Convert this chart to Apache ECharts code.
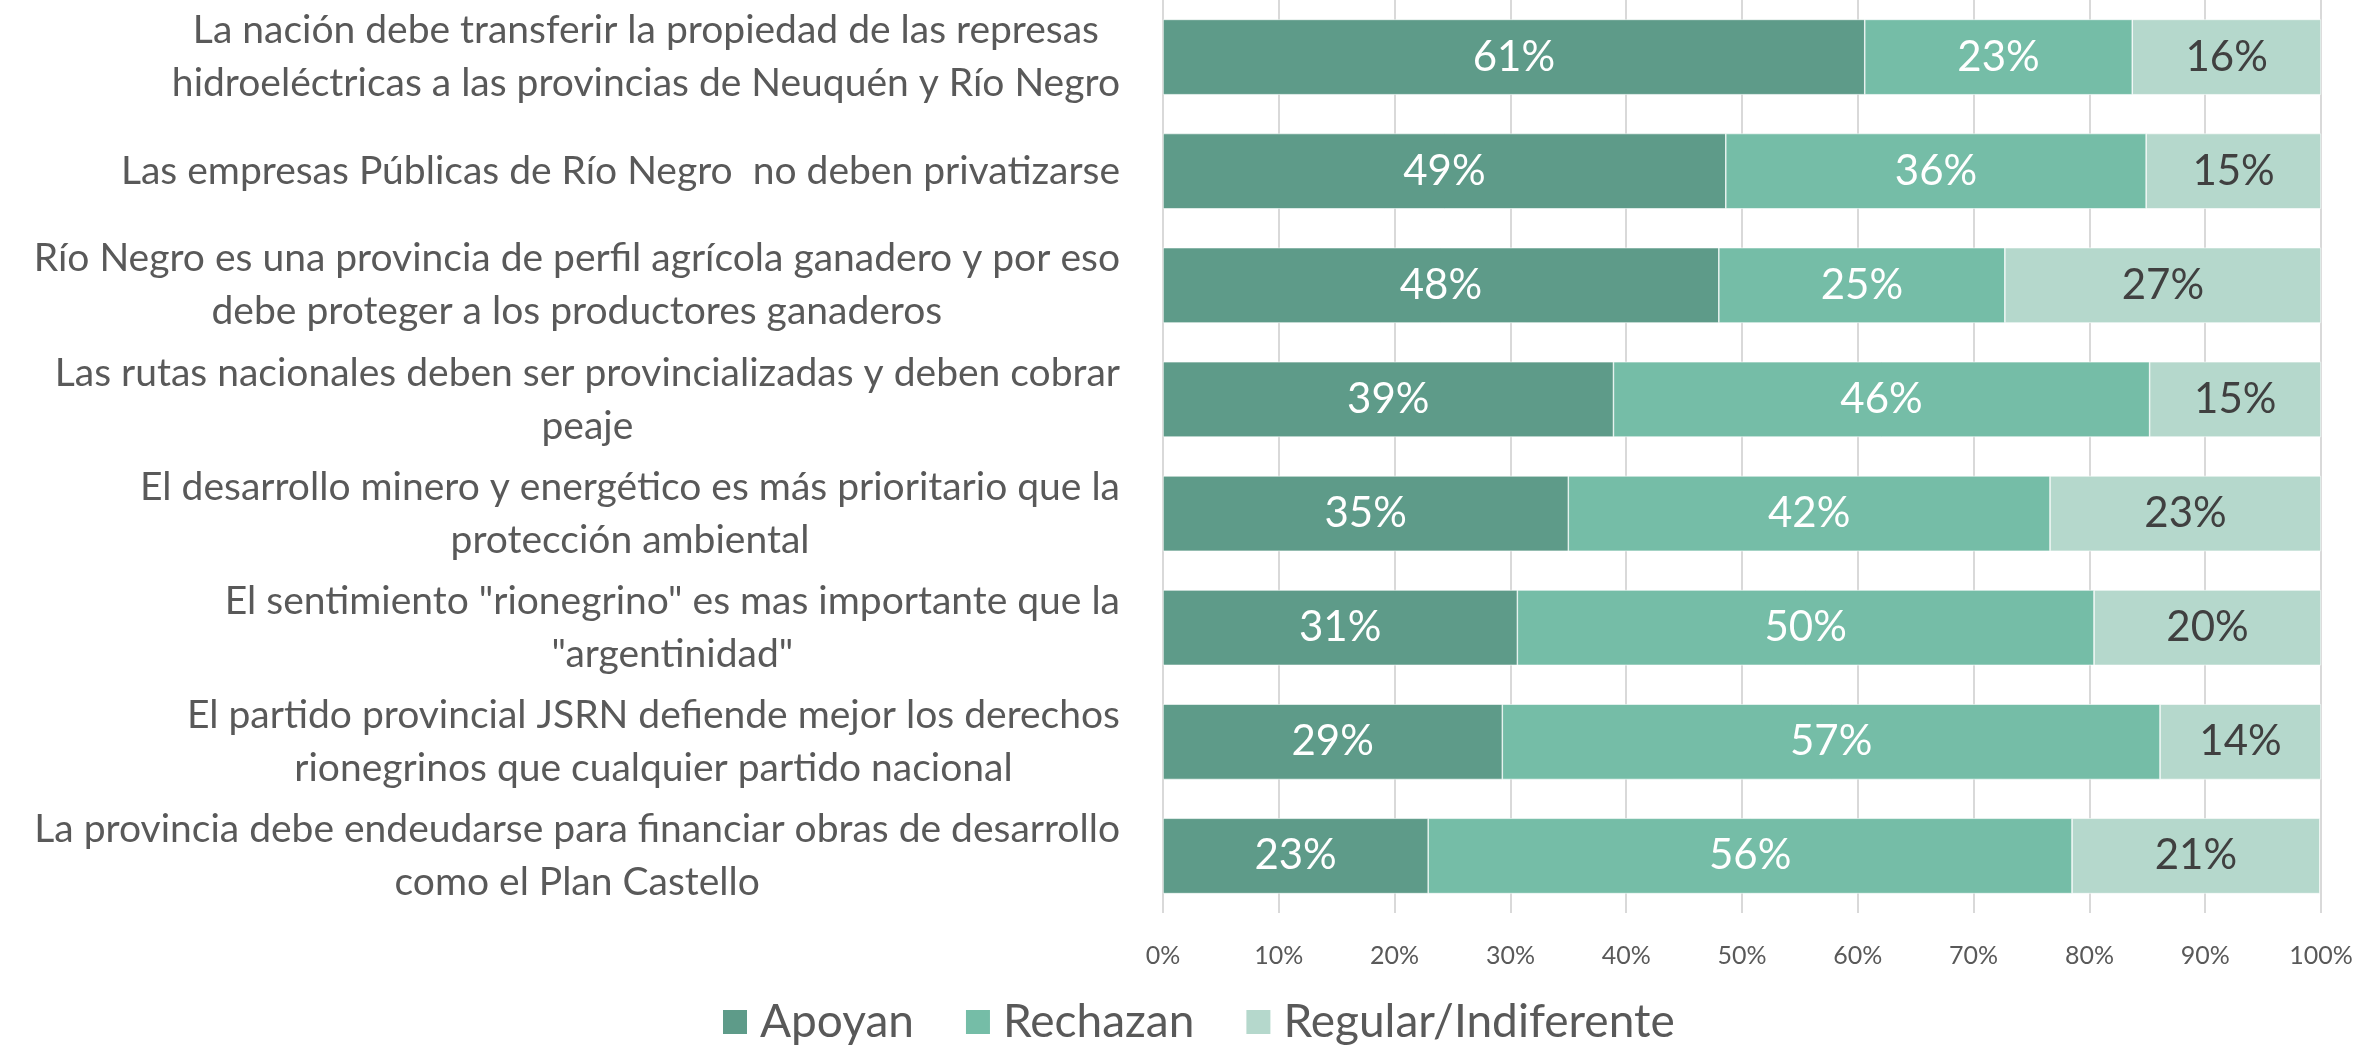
<!DOCTYPE html>
<html>
<head>
<meta charset="utf-8">
<script src="https://cdn.jsdelivr.net/npm/echarts@6/dist/echarts.min.js"></script>
<style>
  html, body { margin: 0; padding: 0; background: #fff; }
  #main { width: 2361px; height: 1047px; }
</style>
</head>
<body>
<div id="main"></div>
<script>
var categories = [
    'La nación debe transferir la propiedad de las represas\nhidroeléctricas a las provincias de Neuquén y Río Negro',
    'Las empresas Públicas de Río Negro  no deben privatizarse',
    'Río Negro es una provincia de perfil agrícola ganadero y por eso\ndebe proteger a los productores ganaderos',
    'Las rutas nacionales deben ser provincializadas y deben cobrar\npeaje',
    'El desarrollo minero y energético es más prioritario que la\nprotección ambiental',
    'El sentimiento "rionegrino" es mas importante que la\n"argentinidad"',
    'El partido provincial JSRN defiende mejor los derechos\nrionegrinos que cualquier partido nacional',
    'La provincia debe endeudarse para financiar obras de desarrollo\ncomo el Plan Castello'
];
var apoyan = [60.6, 48.6, 48.0, 38.9, 35.0, 30.6, 29.3, 22.9];
var rechazan = [23.1, 36.3, 24.7, 46.3, 41.6, 49.8, 56.8, 55.6];
var regular = [16.3, 15.1, 27.3, 14.8, 23.4, 19.6, 13.9, 21.4];
var seriesNames = ['Apoyan', 'Rechazan', 'Regular/Indiferente'];
var xTicks = [0, 10, 20, 30, 40, 50, 60, 70, 80, 90, 100];

var font = 'Lato, "Open Sans", sans-serif';
var colors = ['#5e9b89', '#75bda7', '#b5d8cc'];
var labelColors = ['#ffffff', '#ffffff', '#404040'];

function makeSeries(name, data, i) {
    return {
        name: name,
        type: 'bar',
        stack: 'total',
        data: data,
        barCategoryGap: '34%',
        itemStyle: { color: colors[i], borderColor: '#ffffff', borderWidth: 0.6 },
        label: {
            show: true,
            position: 'inside',
            color: labelColors[i],
            fontFamily: font,
            fontSize: 42,
            formatter: function (p) { return Math.round(p.value) + '%'; }
        }
    };
}

var myChart = echarts.init(document.getElementById('main'));
var option = {
    animation: false,
    backgroundColor: '#ffffff',
    grid: { left: 1163, right: 40, top: 0, height: 913, outerBoundsMode: 'none', containLabel: false },
    legend: {
        data: seriesNames,
        left: 716,
        top: 994,
        itemWidth: 26,
        itemHeight: 26,
        itemGap: 50,
        icon: 'rect',
        textStyle: { color: '#595959', fontFamily: font, fontSize: 46, padding: [0, 0, 0, 7] }
    },
    xAxis: {
        type: 'value',
        min: 0,
        max: 100,
        interval: 10,
        axisLine: { show: false },
        axisTick: { show: false },
        splitLine: { show: true, lineStyle: { color: '#d9d9d9', width: 2 } },
        axisLabel: {
            color: '#595959',
            fontFamily: font,
            fontSize: 25,
            margin: 30,
            formatter: function (v) { return xTicks.indexOf(v) >= 0 ? v + '%' : ''; }
        }
    },
    yAxis: {
        type: 'category',
        data: categories,
        inverse: true,
        axisLine: { show: false },
        axisTick: { show: false },
        axisLabel: {
            margin: 43,
            align: 'right',
            formatter: function (v) {
                return v.split('\n').map(function (l) { return '{c|' + l + '}'; }).join('\n');
            },
            rich: {
                c: { align: 'center', color: '#595959', fontFamily: font, fontSize: 39, lineHeight: 53 }
            }
        }
    },
    series: [
        makeSeries(seriesNames[0], apoyan, 0),
        makeSeries(seriesNames[1], rechazan, 1),
        makeSeries(seriesNames[2], regular, 2)
    ]
};
myChart.setOption(option);
</script>
</body>
</html>
